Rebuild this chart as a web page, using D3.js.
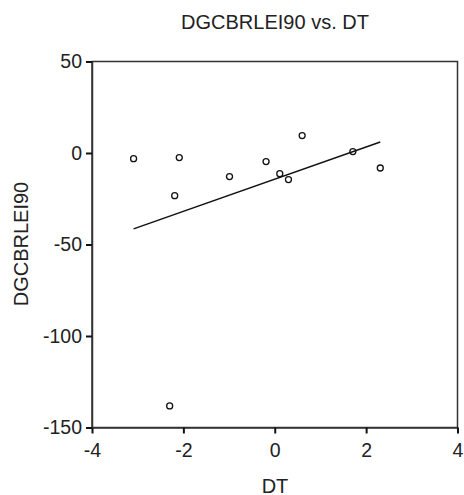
<!DOCTYPE html>
<html>
<head>
<meta charset="utf-8">
<script src="https://cdn.jsdelivr.net/npm/d3@7"></script>
<style>
  body { margin: 0; background: #fff; }
  text { font-family: "Liberation Sans", Arial, sans-serif; fill: #222; }
</style>
</head>
<body>
<svg></svg>
<script>
// scatter data
let dtValues = [-3.09, -2.09, -2.19, -0.99, -0.19, 0.11, 0.30, 0.60, 1.71, 2.31, -2.30];
let dgValues = [-3.1, -2.5, -23.3, -12.9, -4.7, -11.3, -14.5, 9.5, 0.8, -8.2, -138.2];

let xTicks = [-4, -2, 0, 2, 4];
let yTicks = [50, 0, -50, -100, -150];

let svgWidth = 464,
    svgHeight = 495;

let svg = d3.select('svg')
            .attr('width', svgWidth)
            .attr('height', svgHeight);

// plot box edges
let plotLeft = 92, plotRight = 457.5, plotTop = 61.5, plotBottom = 427.5;

let x = d3.scaleLinear().domain([-4, 4]).range([plotLeft, plotRight]);
let y = d3.scaleLinear().domain([-150, 50]).range([plotBottom, plotTop]);

// plain hyphen for negatives, like the original
let fmt = d => String(d);

// frame
svg.append('rect')
   .attr('x', plotLeft)
   .attr('y', plotTop)
   .attr('width', plotRight - plotLeft)
   .attr('height', plotBottom - plotTop)
   .attr('fill', 'none')
   .attr('stroke', '#333')
   .attr('stroke-width', 1.5);

// axes
let xAxis = svg.append('g')
   .attr('transform', `translate(0,${plotBottom})`)
   .call(d3.axisBottom(x).tickValues(xTicks).tickFormat(fmt)
           .tickSize(6).tickPadding(9.5).tickSizeOuter(0));

let yAxis = svg.append('g')
   .attr('transform', `translate(${plotLeft},0)`)
   .call(d3.axisLeft(y).tickValues(yTicks).tickFormat(fmt)
           .tickSize(6).tickPadding(4).tickSizeOuter(0));

[xAxis, yAxis].forEach(g => {
  g.select('.domain').attr('stroke', '#333').attr('stroke-width', 1.5);
  g.selectAll('.tick line').attr('stroke', '#111').attr('stroke-width', 2);
  g.selectAll('.tick text')
   .style('font-size', '19.5px')
   .style('font-family', '"Liberation Sans", Arial, sans-serif')
   .attr('fill', '#222');
});

// least squares fit line
let mx = d3.mean(dtValues), my = d3.mean(dgValues);
let sxy = d3.sum(dtValues, (d, i) => (d - mx) * (dgValues[i] - my));
let sxx = d3.sum(dtValues, d => (d - mx) * (d - mx));
let slope = sxy / sxx, intercept = my - slope * mx;
let ext = d3.extent(dtValues);

svg.append('line')
   .attr('x1', x(ext[0]))
   .attr('y1', y(intercept + slope * ext[0]))
   .attr('x2', x(ext[1]))
   .attr('y2', y(intercept + slope * ext[1]))
   .attr('stroke', '#111')
   .attr('stroke-width', 1.4);

// points
svg.append('g')
   .selectAll('circle')
   .data(dtValues)
   .join('circle')
   .attr('cx', d => x(d))
   .attr('cy', (d, i) => y(dgValues[i]))
   .attr('r', 3)
   .attr('fill', 'none')
   .attr('stroke', '#111')
   .attr('stroke-width', 1.3);

// titles
svg.append('text')
   .attr('x', 275)
   .attr('y', 29)
   .attr('text-anchor', 'middle')
   .style('font-size', '20px')
   .text('DGCBRLEI90 vs. DT');

svg.append('text')
   .attr('x', 275)
   .attr('y', 492.5)
   .attr('text-anchor', 'middle')
   .style('font-size', '20px')
   .text('DT');

svg.append('text')
   .attr('transform', 'translate(28,244) rotate(-90)')
   .attr('text-anchor', 'middle')
   .style('font-size', '20px')
   .text('DGCBRLEI90');
</script>
</body>
</html>
